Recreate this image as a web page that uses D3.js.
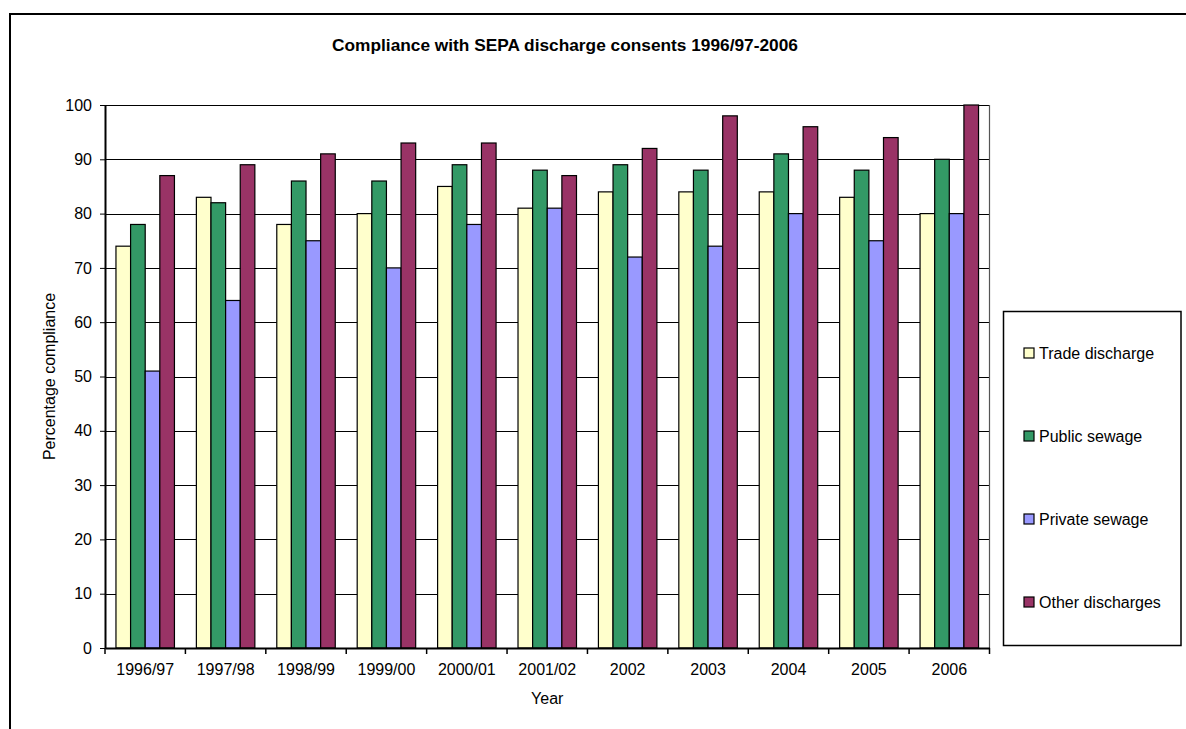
<!DOCTYPE html>
<html>
<head>
<meta charset="utf-8">
<script src="https://cdn.jsdelivr.net/npm/d3@7"></script>
<style>
  html, body { margin: 0; padding: 0; background: #fff; }
  svg { display: block; font-family: "Liberation Sans", Arial, sans-serif; }
</style>
</head>
<body>
<svg id="chart" width="1186" height="729"></svg>
<script>
const categories = ["1996/97","1997/98","1998/99","1999/00","2000/01","2001/02","2002","2003","2004","2005","2006"];
const seriesNames = ["Trade discharge","Public sewage","Private sewage","Other discharges"];
const tradeDischarge  = [74, 83, 78, 80, 85, 81, 84, 84, 84, 83, 80];
const publicSewage    = [78, 82, 86, 86, 89, 88, 89, 88, 91, 88, 90];
const privateSewage   = [51, 64, 75, 70, 78, 81, 72, 74, 80, 75, 80];
const otherDischarges = [87, 89, 91, 93, 93, 87, 92, 98, 96, 94, 100];
const yTicks = [0,10,20,30,40,50,60,70,80,90,100];
const colors = ["#FFFFCC","#339966","#9999FF","#993366"];

const seriesValues = [tradeDischarge, publicSewage, privateSewage, otherDischarges];

const svg = d3.select("#chart");
const plot = {left: 105, top: 105, right: 989.5, bottom: 648};
const FS = 16;

// outer chart border
svg.append("rect").attr("x", 10).attr("y", 14).attr("width", 1300).attr("height", 800)
  .attr("fill", "#fff").attr("stroke", "#000").attr("stroke-width", 2);

const x0 = d3.scaleBand().domain(categories).range([plot.left, plot.right]).paddingInner(0).paddingOuter(0);
const x1 = d3.scaleBand().domain(seriesNames).range([0, x0.bandwidth()]).paddingInner(0).paddingOuter(0.75);
const y = d3.scaleLinear().domain([0, 100]).range([plot.bottom, plot.top]);

// gridlines
svg.append("g").selectAll("line").data(yTicks.filter(d => d > 0)).join("line")
  .attr("x1", plot.left).attr("x2", plot.right)
  .attr("y1", d => Math.round(y(d)) + 0.5).attr("y2", d => Math.round(y(d)) + 0.5)
  .attr("stroke", "#000").attr("stroke-width", 1);

// right plot border
svg.append("line").attr("x1", plot.right).attr("x2", plot.right)
  .attr("y1", plot.top).attr("y2", plot.bottom).attr("stroke", "#555").attr("stroke-width", 1.2);

// bars
const groups = svg.append("g").selectAll("g").data(categories).join("g")
  .attr("transform", c => `translate(${x0(c)},0)`);
groups.selectAll("rect").data((c, i) => seriesNames.map((s, j) => ({s, j, v: seriesValues[j][i]}))).join("rect")
  .attr("x", d => x1(d.s)).attr("width", x1.bandwidth())
  .attr("y", d => y(d.v)).attr("height", d => y(0) - y(d.v))
  .attr("fill", d => colors[d.j]).attr("stroke", "#000").attr("stroke-width", 1.2);

// y axis
const yAxis = svg.append("g").attr("transform", `translate(${plot.left},0)`)
  .call(d3.axisLeft(y).tickValues(yTicks).tickSize(5).tickPadding(8).tickSizeOuter(0));
yAxis.select(".domain").attr("stroke", "#000").attr("stroke-width", 2);
yAxis.selectAll("text").attr("font-size", FS).attr("font-family", "Liberation Sans, Arial, sans-serif").attr("fill", "#000");

// x axis
const xAxis = svg.append("g").attr("transform", `translate(0,${plot.bottom})`)
  .call(d3.axisBottom(x0).tickSize(0).tickPadding(16));
xAxis.select(".domain").attr("stroke", "#000").attr("stroke-width", 2);
xAxis.selectAll("text").attr("font-size", FS).attr("font-family", "Liberation Sans, Arial, sans-serif").attr("fill", "#000");
// boundary ticks
const bounds = categories.map(c => x0(c)).concat([plot.right]);
svg.append("g").selectAll("line").data(bounds).join("line")
  .attr("x1", d => d).attr("x2", d => d).attr("y1", plot.bottom).attr("y2", plot.bottom + 6)
  .attr("stroke", "#000").attr("stroke-width", 1.5);

// title
svg.append("text").attr("x", 565).attr("y", 51).attr("text-anchor", "middle")
  .attr("font-size", 17.3).attr("font-weight", "bold").text("Compliance with SEPA discharge consents 1996/97-2006");

// axis titles
svg.append("text").attr("transform", `translate(55,${(plot.top + plot.bottom) / 2}) rotate(-90)`)
  .attr("text-anchor", "middle").attr("font-size", FS).text("Percentage compliance");
svg.append("text").attr("x", (plot.left + plot.right) / 2).attr("y", 704).attr("text-anchor", "middle")
  .attr("font-size", FS).text("Year");

// legend
const lg = svg.append("g");
lg.append("rect").attr("x", 1003.5).attr("y", 311.5).attr("width", 177.5).attr("height", 334)
  .attr("fill", "#fff").attr("stroke", "#000").attr("stroke-width", 1.5);
const legendY = d3.scalePoint().domain(seriesNames).range([353, 602]);
const items = lg.selectAll("g").data(seriesNames).join("g")
  .attr("transform", d => `translate(1024,${legendY(d)})`);
items.append("rect").attr("x", 0).attr("y", -5).attr("width", 10).attr("height", 10)
  .attr("fill", (d, i) => colors[i]).attr("stroke", "#000").attr("stroke-width", 1.2);
items.append("text").attr("x", 15).attr("y", 6).attr("font-size", FS).text(d => d);
</script>
</body>
</html>
